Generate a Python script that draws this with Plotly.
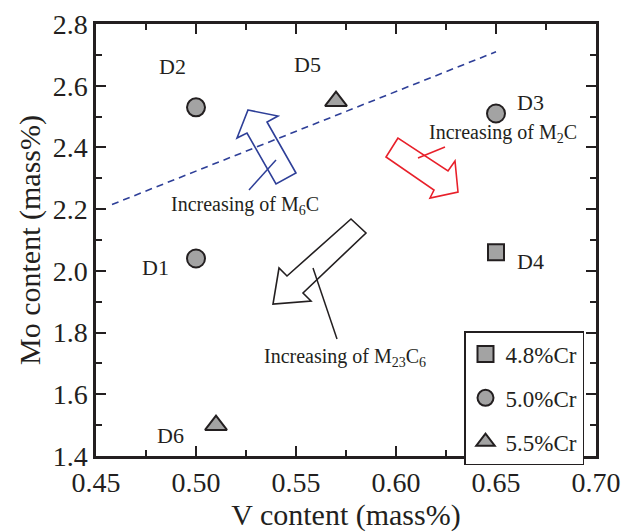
import plotly.graph_objects as go

# ---------------- data ----------------
sq_name = "4.8%Cr"
sq_v = [0.65]
sq_mo = [2.06]
sq_lab = ["D4"]

ci_name = "5.0%Cr"
ci_v = [0.50, 0.50, 0.65]
ci_mo = [2.04, 2.53, 2.51]
ci_lab = ["D1", "D2", "D3"]

tr_name = "5.5%Cr"
tr_v = [0.57, 0.51]
tr_mo = [2.55, 1.50]
tr_lab = ["D5", "D6"]

trend_v = [0.458, 0.65]
trend_mo = [2.215, 2.71]

x_ticks = [0.45, 0.50, 0.55, 0.60, 0.65, 0.70]
y_ticks = [1.4, 1.6, 1.8, 2.0, 2.2, 2.4, 2.6, 2.8]

# ---------------- styling ----------------
W, H = 623, 532
L, R, T, B = 96, 27, 24, 76
XR = [0.45, 0.70]
YR = [1.4, 2.8]
INK = "#231f20"
GRAY = "#a3a3a3"
BLUE = "#2e3f98"
RED = "#e8202a"
FONT = "Liberation Serif, Times New Roman, serif"

pw, ph = W - L - R, H - T - B


def to_data(px, py):
    x = XR[0] + (px - L) / pw * (XR[1] - XR[0])
    y = YR[1] - (py - T) / ph * (YR[1] - YR[0])
    return x, y


def path(pts, close=True):
    s = ""
    for i, (px, py) in enumerate(pts):
        x, y = to_data(px, py)
        s += ("M" if i == 0 else "L") + f"{x:.5f},{y:.5f} "
    return s + ("Z" if close else "")


fig = go.Figure()

mk_line = dict(color=INK, width=2)
fig.add_trace(go.Scatter(x=sq_v, y=sq_mo, mode="markers", name=sq_name,
                         legendgroup="a",
                         marker=dict(symbol="square", size=16, color=GRAY, line=mk_line)))
fig.add_trace(go.Scatter(x=ci_v, y=ci_mo, mode="markers", name=ci_name,
                         legendgroup="b",
                         marker=dict(symbol="circle", size=18, color=GRAY, line=mk_line)))
fig.add_trace(go.Scatter(x=tr_v, y=tr_mo, mode="markers", name=tr_name,
                         legendgroup="c",
                         marker=dict(symbol="triangle-up", size=19, color=GRAY, line=mk_line)))
fig.add_trace(go.Scatter(x=trend_v, y=trend_mo, mode="lines", showlegend=False,
                         line=dict(color=BLUE, width=1.6, dash="7px,5px")))

# point labels
offsets = {"D1": (-41, 9), "D2": (-24, -41), "D3": (34, -11),
           "D4": (34, 9), "D5": (-29, -37), "D6": (-46, 10)}
for xs, ys, labs in [(sq_v, sq_mo, sq_lab), (ci_v, ci_mo, ci_lab), (tr_v, tr_mo, tr_lab)]:
    for x, y, lab in zip(xs, ys, labs):
        dx, dy = offsets[lab]
        fig.add_annotation(x=x, y=y, text=lab, showarrow=False, xshift=dx, yshift=-dy,
                           font=dict(size=22, color=INK, family=FONT))

# block arrows (pixel geometry of the decorations)
blue_arrow = [(248, 110), (278, 116), (267, 122), (296, 173), (276, 184), (247, 133), (237, 138)]
red_arrow = [(398, 138), (386, 157), (434, 190), (430, 198), (458, 192), (455, 161), (448, 171)]
black_arrow = [(351, 219), (366, 233), (303, 293), (311, 301), (273, 304), (279, 268), (287, 276)]
shapes = []
for pts, col in [(blue_arrow, BLUE), (red_arrow, RED), (black_arrow, INK)]:
    shapes.append(dict(type="path", path=path(pts), xref="x", yref="y",
                       line=dict(color=col, width=1.6), fillcolor="rgba(0,0,0,0)"))
leaders = [([(276, 160), (249, 190)], BLUE), ([(445, 147), (418, 158)], RED),
           ([(313, 268), (337, 339)], INK)]
for pts, col in leaders:
    shapes.append(dict(type="path", path=path(pts, close=False), xref="x", yref="y",
                       line=dict(color=col, width=1.5)))

notes = [("Increasing of M<sub>6</sub>C", 245, 205),
         ("Increasing of M<sub>2</sub>C", 503, 133),
         ("Increasing of M<sub>23</sub>C<sub>6</sub>", 345, 357)]
for txt, px, py in notes:
    x, y = to_data(px, py)
    fig.add_annotation(x=x, y=y, text=txt, showarrow=False,
                       font=dict(size=20, color=INK, family=FONT))

axis_common = dict(showgrid=False, zeroline=False, showline=True, linecolor=INK, linewidth=2.5,
                   mirror="allticks", ticks="inside", ticklen=10, tickwidth=2, tickcolor=INK,
                   automargin=False,
                   tickfont=dict(size=28, color=INK, family=FONT))
fig.update_xaxes(range=XR, tickvals=x_ticks, ticktext=[f"{v:.2f}" for v in x_ticks],
                 minor=dict(dtick=0.025, ticks="inside", ticklen=6, tickwidth=2, tickcolor=INK),
                 title=dict(text="V content (mass%)", font=dict(size=30, color=INK, family=FONT),
                            standoff=10),
                 **axis_common)
fig.update_yaxes(range=YR, tickvals=y_ticks, ticktext=[f"{v:.1f}" for v in y_ticks],
                 minor=dict(dtick=0.1, ticks="inside", ticklen=6, tickwidth=2, tickcolor=INK),
                 title=dict(text="Mo content (mass%)", font=dict(size=30, color=INK, family=FONT),
                            standoff=4),
                 **axis_common)

fig.update_layout(
    width=W, height=H, margin=dict(l=L, r=R, t=T, b=B),
    plot_bgcolor="white", paper_bgcolor="white",
    shapes=shapes,
    legend=dict(x=(464 - L) / pw, y=(H - B - 331) / ph, xanchor="left", yanchor="top",
                bgcolor="white", bordercolor=INK, borderwidth=1.5,
                font=dict(size=23, color=INK, family=FONT), tracegroupgap=11,
                itemwidth=30),
    font=dict(family=FONT, color=INK),
)

fig.write_html("out.html")
